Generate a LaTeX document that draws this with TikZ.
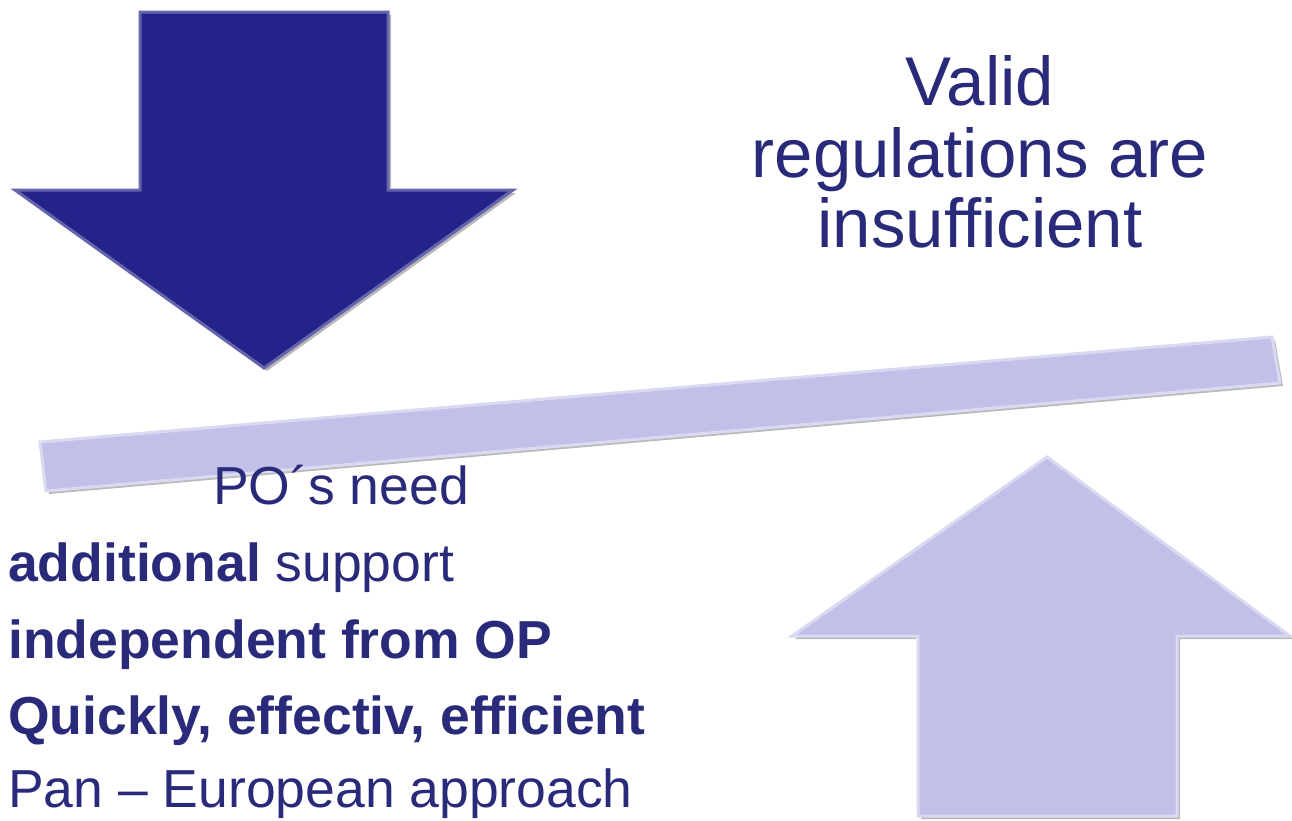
\documentclass[tikz,border=0pt]{standalone}
\usepackage{fontspec}
\setmainfont{Liberation Sans}
\definecolor{navy}{RGB}{42,42,122}
\definecolor{darkblue}{RGB}{35,35,138}
\definecolor{lavender}{RGB}{192,192,232}
\tikzset{
  shade3d/.style={fill=gray!55},
  light3d/.style={fill=white},
  bigtext/.style={inner sep=0pt, text=navy, font=\fontsize{69}{71}\selectfont},
  listtext/.style={inner sep=0pt, text=navy, font=\fontsize{53.5}{77}\selectfont, anchor=base west},
}
\begin{document}
\begin{tikzpicture}[x=1pt,y=-1pt]
  \useasboundingbox (0,0) rectangle (1292,820);
  % down arrow
  \fill[shade3d,shift={(3,3)}] (140,12) -- (388,12) -- (388,190) -- (513,190) -- (264,368) -- (15,190) -- (140,190) -- cycle;
  \fill[light3d,shift={(-2,-2)}] (140,12) -- (388,12) -- (388,190) -- (513,190) -- (264,368) -- (15,190) -- (140,190) -- cycle;
  \draw[fill=darkblue, draw=darkblue!70!white, line width=3pt, line join=miter] (140,12) -- (388,12) -- (388,190) -- (513,190) -- (264,368) -- (15,190) -- (140,190) -- cycle;
  % beam
  \fill[shade3d,shift={(3,3)}] (40,442) -- (1272,337) -- (1280,383) -- (46,491) -- cycle;
  \fill[light3d,shift={(-2,-2)}] (40,442) -- (1272,337) -- (1280,383) -- (46,491) -- cycle;
  \draw[fill=lavender, draw=lavender!60!white, line width=3pt] (40,442) -- (1272,337) -- (1280,383) -- (46,491) -- cycle;
  % up arrow
  \fill[shade3d,shift={(3,3)}] (1047,457) -- (1290,636) -- (1177,636) -- (1177,816) -- (918,816) -- (918,636) -- (792,636) -- cycle;
  \fill[light3d,shift={(-2,-2)}] (1047,457) -- (1290,636) -- (1177,636) -- (1177,816) -- (918,816) -- (918,636) -- (792,636) -- cycle;
  \draw[fill=lavender, draw=lavender!60!white, line width=3pt] (1047,457) -- (1290,636) -- (1177,636) -- (1177,816) -- (918,816) -- (918,636) -- (792,636) -- cycle;
  % right text
  \node[bigtext, anchor=base] (valid) at (980,105) {Valid};
  \node[bigtext, anchor=base] (regs) at (980,177) {regulations are};
  \node[bigtext, anchor=base] (insuff) at (980,247) {insufficient};
  % left text
  \node[listtext] (need) at (213,504) {PO´s need};
  \node[listtext] (addl) at (8,581) {\textbf{additional} support};
  \node[listtext] (indep) at (8,658) {\textbf{independent from OP}};
  \node[listtext] (quick) at (8,734) {\textbf{Quickly, effectiv, efficient}};
  \node[listtext] (pan) at (8,807) {Pan -- European approach};
\end{tikzpicture}
\end{document}
